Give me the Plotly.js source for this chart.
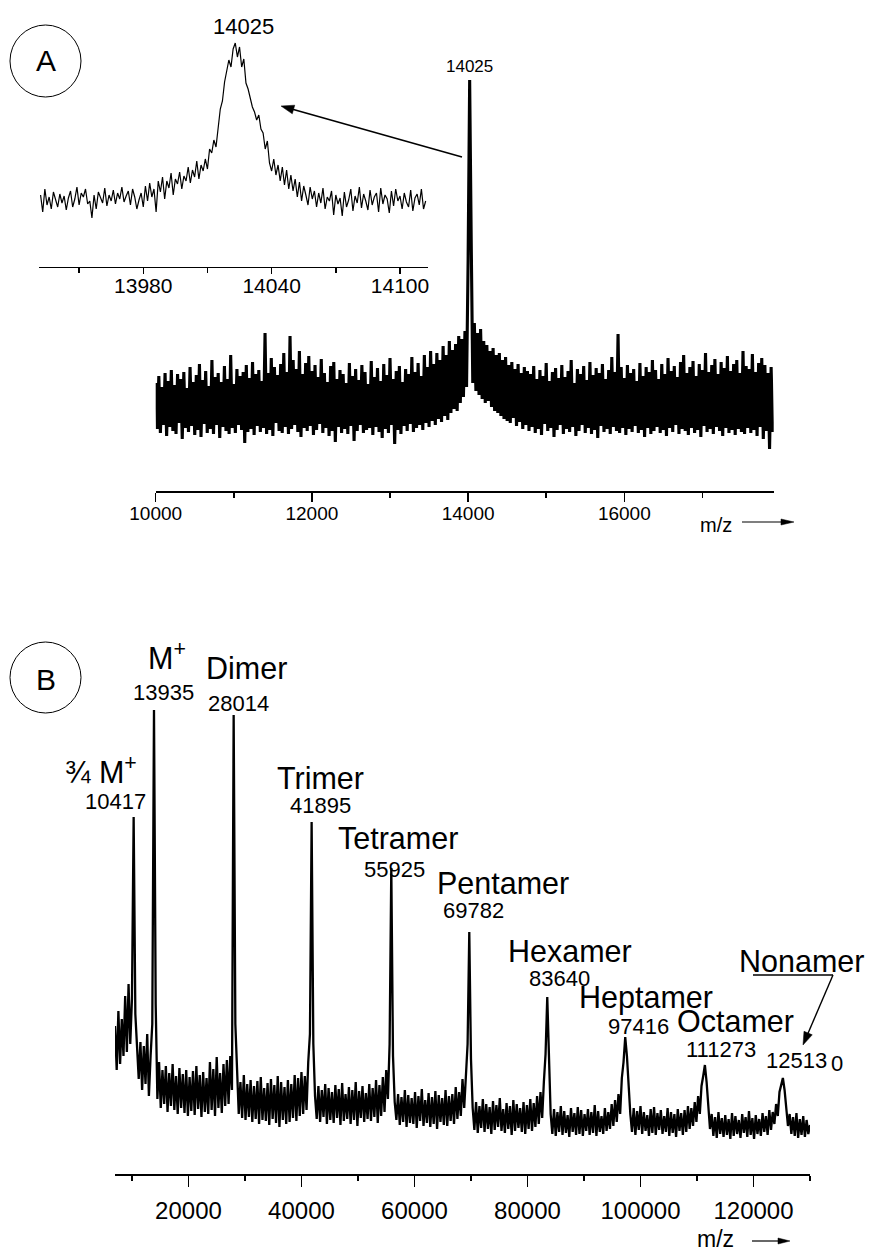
<!DOCTYPE html>
<html><head><meta charset="utf-8">
<script src="https://cdn.plot.ly/plotly-3.0.1.min.js"></script>
<style>html,body{margin:0;padding:0;background:#fff}</style>
</head><body><div id="chart" style="width:869px;height:1253px"></div>
<script>
// ---------------- DATA ----------------
// Panel A, main spectrum: m/z sampled every 20 from 10000
const mainStartMz = 10000, mainStepMz = 20;
const mainIntensity = [
108,62,115,58,104,66,118,55,110,64,121,60,106,57,117,68,112,52,119,63,
103,59,124,65,109,56,116,61,127,54,111,67,120,58,105,62,131,57,114,66,
118,53,109,64,125,60,112,57,136,63,107,58,122,66,115,61,119,48,126,59,
113,62,129,56,117,65,121,59,110,63,158,57,118,61,133,55,124,68,116,60,
127,58,138,64,119,57,155,62,131,66,122,59,140,54,117,63,128,60,135,65,
120,56,126,61,114,67,132,58,118,63,109,55,125,60,129,49,112,64,121,58,
117,62,108,57,128,65,115,50,122,60,111,66,126,58,119,61,107,63,130,56,
114,64,123,59,110,53,127,62,116,58,133,66,112,47,120,61,125,57,109,65,
122,60,117,67,134,59,119,63,128,66,115,61,136,68,124,64,140,70,127,66,
138,72,131,69,145,75,136,71,150,78,141,82,147,80,155,88,152,94,160,104,
230,411,250,108,168,100,158,96,162,92,150,88,146,90,140,84,143,80,136,78,
138,75,131,72,134,70,126,68,129,73,122,65,127,69,118,62,124,66,120,60,
117,64,125,58,112,62,121,56,115,67,128,60,110,63,119,54,123,61,113,66,
126,57,114,62,120,59,131,64,108,55,122,60,117,66,125,58,111,63,129,57,
116,61,123,53,118,65,127,59,112,62,121,57,134,64,119,60,157,58,124,63,
113,56,126,62,118,59,122,65,110,58,128,61,115,54,124,63,119,57,131,60,
121,64,112,58,127,61,117,55,133,63,120,59,125,66,114,57,129,62,136,60,
118,56,124,63,130,58,115,61,127,54,121,65,138,59,119,62,126,57,132,64,
117,60,129,55,123,63,135,58,120,61,127,56,131,62,118,59,140,57,125,63,
122,58,137,61,119,55,128,64,133,52,126,60,118,42,124,59
];
const mainPeakLabel = '14025';

// Panel A, inset (zoom on the 14025 peak): m/z sampled every 1 from 13932
const insetStartMz = 13932, insetStepMz = 1;
const insetIntensity = [
72,55,78,62,70,58,75,66,60,73,
64,71,57,69,76,60,68,80,62,74,
70,78,63,66,49,72,58,75,70,64,
79,61,72,66,77,63,74,68,80,65,
71,76,62,78,70,58,67,74,60,81,
66,84,70,78,55,86,75,90,68,86,
79,94,72,88,83,95,78,91,86,100,
84,97,90,106,88,102,96,108,98,118,
114,127,120,140,158,166,185,196,207,200,
218,224,210,220,200,208,184,178,170,160,
155,147,152,138,134,118,126,104,96,108,
92,102,86,100,82,97,78,92,76,88,
70,85,66,81,72,62,80,68,76,60,
74,64,79,58,70,66,76,52,72,63,
69,51,75,60,67,78,56,71,64,80,
59,73,66,57,77,62,70,74,55,79,
63,72,68,54,76,61,78,66,71,58,
74,65,60,77,56,69,73,62,78,58,66
];

// Panel B, full spectrum: m/z sampled every 300 from 7000
const bStartMz = 7000, bStepMz = 300;
const bIntensity = [
148,104,163,110,155,118,178,122,190,130,175,
357,
160,120,95,132,84,128,90,140,78,118,150,
464,
170,
75,112,66,104,70,108,62,101,68,110,
64,98,60,106,66,100,61,104,58,97,
63,103,59,108,65,99,57,102,62,96,
60,112,64,105,58,117,66,101,61,110,
68,114,70,118,84,
459,
150,
96,60,92,56,99,54,90,57,94,52,
88,55,93,50,97,54,86,53,91,49,
95,55,89,51,98,47,92,54,87,50,
94,52,90,56,99,53,96,58,102,60,
98,64,112,140,
352,
130,
78,55,88,52,84,57,90,50,86,54,
82,51,89,56,85,49,91,53,80,55,
87,50,84,54,92,48,83,56,88,52,
81,55,90,53,86,57,94,51,89,58,
97,62,104,75,130,
306,
118,
72,54,80,49,77,52,84,47,79,51,
76,50,82,46,78,53,85,48,74,51,
81,47,77,50,83,45,79,52,76,49,
84,48,78,53,80,50,87,55,82,58,
95,66,100,130,
242,
115,
66,44,72,41,68,46,75,42,70,45,
67,40,73,44,69,47,76,43,65,41,
71,45,68,39,74,43,70,46,66,42,
72,40,69,45,75,43,71,47,78,50,
82,56,92,120,
177,
110,
60,40,65,38,62,42,68,39,63,41,
59,37,66,42,61,39,67,40,64,38,
60,43,65,39,62,41,69,38,63,42,
58,40,66,43,62,45,70,48,74,52,
80,60,96,112,
137,
118,84,
60,42,66,39,63,44,68,40,62,43,
59,38,65,41,67,39,61,44,64,40,
58,42,66,38,62,41,60,37,65,43,
61,39,64,42,68,45,66,48,72,52,
78,60,88,98,
109,
92,70,
45,60,38,57,36,62,40,56,37,59,
39,55,35,61,38,58,40,54,36,60,
41,57,37,63,39,56,35,59,40,55,
38,61,42,58,39,64,44,62,50,70,
58,82,88,
96,
84,
62,48,60,40,57,38,61,36,55,39,
58,37,54,40,49
];
const bPeakNames = ['\u00BE M<sup>+</sup>', 'M<sup>+</sup>', 'Dimer', 'Trimer', 'Tetramer', 'Pentamer', 'Hexamer', 'Heptamer', 'Octamer', 'Nonamer'];
const bPeakMz = ['10417', '13935', '28014', '41895', '55925', '69782', '83640', '97416', '111273', '12513'];
const bNonamerTail = '0';
const axisLabel = 'm/z';

// ---------------- LAYOUT HELPERS ----------------
const W = 869, H = 1253;
const FONT = 'Liberation Sans, Arial, Helvetica, sans-serif';
const px = v => v / W;
const py = v => 1 - v / H;
const grid = (start, step, n) => { const a = []; for (let i = 0; i < n; i++) a.push(start + i * step); return a; };

const traces = [
  { x: grid(mainStartMz, mainStepMz, mainIntensity.length), y: mainIntensity, xaxis: 'x', yaxis: 'y',
    type: 'scatter', mode: 'lines', line: { color: '#000', width: 3.1 }, hoverinfo: 'skip', showlegend: false },
  { x: grid(insetStartMz, insetStepMz, insetIntensity.length), y: insetIntensity, xaxis: 'x2', yaxis: 'y2',
    type: 'scatter', mode: 'lines', line: { color: '#000', width: 1.2 }, hoverinfo: 'skip', showlegend: false },
  { x: grid(bStartMz, bStepMz, bIntensity.length), y: bIntensity, xaxis: 'x3', yaxis: 'y3',
    type: 'scatter', mode: 'lines', line: { color: '#000', width: 2.3 }, hoverinfo: 'skip', showlegend: false }
];

function xax(domain, range, tick0, dtick, minorDtick, fontSize, ticklen, lw, anchor, standoff) {
  return {
    domain: domain, range: range, anchor: anchor, showgrid: false, zeroline: false,
    showline: true, linecolor: '#000', linewidth: lw,
    ticks: 'outside', ticklen: ticklen, tickwidth: 1.5, tickcolor: '#000',
    tickmode: 'linear', tick0: tick0, dtick: dtick,
    minor: { ticks: 'outside', ticklen: 5, tickwidth: 1.5, tickcolor: '#000', dtick: minorDtick, tick0: tick0, showgrid: false },
    exponentformat: 'none', tickformat: 'd', ticklabelstandoff: standoff,
    tickfont: { family: FONT, size: fontSize, color: '#000' }, fixedrange: true
  };
}
function yax(domain, range, anchor) {
  return { domain: domain, range: range, anchor: anchor, visible: false, fixedrange: true };
}

// label positions (pixels) for panel B peak annotations
const bNamePos = [[101,770],[167,656],[246,668],[320,778],[398,838],[503,883],[570,951],[646,997],[735,1021],[801,961]];
const bMzPos   = [[116,801],[163,692],[239,703],[320,805],[394,869],[474,910],[559,979],[638,1026],[721,1049],[796,1060]];

const annotations = [];
function lab(text, x, y, size, anchorY) {
  annotations.push({ text: text, x: px(x), y: py(y), xref: 'paper', yref: 'paper', showarrow: false,
    xanchor: 'center', yanchor: anchorY || 'middle', font: { family: FONT, size: size, color: '#000' } });
}
const shapes = [];
function arrow(hx, hy, tx, ty, w, len, half) {
  const dx = hx - tx, dy = hy - ty, n = Math.hypot(dx, dy);
  const ux = dx / n, uy = dy / n;
  const bx = hx - ux * len, by = hy - uy * len;
  shapes.push({ type: 'line', xref: 'paper', yref: 'paper', x0: px(tx), y0: py(ty), x1: px(bx + ux), y1: py(by + uy),
    line: { color: '#000', width: w } });
  const p1 = [bx - uy * half, by + ux * half], p2 = [bx + uy * half, by - ux * half];
  shapes.push({ type: 'path', xref: 'paper', yref: 'paper',
    path: 'M' + px(hx) + ',' + py(hy) + ' L' + px(p1[0]) + ',' + py(p1[1]) + ' L' + px(p2[0]) + ',' + py(p2[1]) + ' Z',
    fillcolor: '#000', line: { color: '#000', width: 0.5 } });
}

lab('A', 46, 61, 30);
lab(mainPeakLabel, 243, 27, 22);
lab(mainPeakLabel, 470, 66, 17);
lab(axisLabel, 716, 525, 20);
arrow(281, 106, 462, 157, 1.6, 13, 4.5);
arrow(794, 522, 742, 522, 1.2, 13, 3);

lab('B', 46, 679, 30);
for (let i = 0; i < bPeakNames.length; i++) {
  lab(bPeakNames[i], bNamePos[i][0], bNamePos[i][1], 30.5);
  lab(bPeakMz[i], bMzPos[i][0], bMzPos[i][1], 22);
}
lab(bNonamerTail, 837, 1063, 22);
annotations.push({ text: axisLabel, x: px(715), y: 0, xref: 'paper', yref: 'paper', showarrow: false,
  xanchor: 'center', yanchor: 'bottom', borderpad: 0, font: { family: FONT, size: 23, color: '#000' } });
arrow(803, 1045, 833, 975, 1.4, 13, 4.5);
arrow(790, 1241, 752, 1241, 1.2, 12, 3);

shapes.push(
  { type: 'circle', xref: 'paper', yref: 'paper', x0: px(10), x1: px(81), y0: py(97), y1: py(25), line: { color: '#000', width: 1 } },
  { type: 'circle', xref: 'paper', yref: 'paper', x0: px(10), x1: px(81), y0: py(713), y1: py(642), line: { color: '#000', width: 1 } },
  { type: 'line', xref: 'paper', yref: 'paper', x0: px(753), x1: px(833), y0: py(975), y1: py(975), line: { color: '#000', width: 1.4 } }
);

const layout = {
  width: W, height: H, margin: { l: 0, r: 0, t: 0, b: 0 },
  paper_bgcolor: '#fff', plot_bgcolor: 'rgba(0,0,0,0)', showlegend: false,
  font: { family: FONT, color: '#000' },
  xaxis:  xax([px(155.7), px(773.7)], [10000, 17913], 10000, 2000, 1000, 19, 9, 2, 'y', -5),
  yaxis:  yax([py(491), py(70)], [0, 421], 'x'),
  xaxis2: xax([px(39.3), px(427.7)], [13931.4, 14112.95], 13980, 60, 30, 21, 6, 1.4, 'y2', -7),
  yaxis2: yax([py(267), py(20)], [0, 247], 'x2'),
  xaxis3: xax([px(115), px(810)], [7000, 130000], 0, 20000, 10000, 24, 11, 2, 'y3', 3),
  yaxis3: yax([py(1174), py(694)], [0, 480], 'x3'),
  annotations: annotations, shapes: shapes
};

Plotly.newPlot('chart', traces, layout, { staticPlot: true, displayModeBar: false });
</script></body></html>
